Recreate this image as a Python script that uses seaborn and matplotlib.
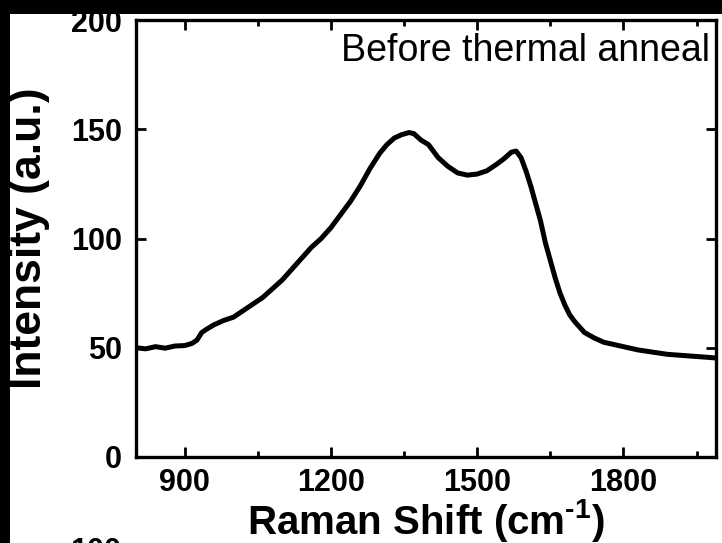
import numpy as np
import pandas as pd
import matplotlib
matplotlib.use("Agg")
import matplotlib.pyplot as plt
from matplotlib.patches import Rectangle
import seaborn as sns

# ─── DATA ─────────────────────────────────────────────────
raman_shift = [800, 820, 840, 860, 880, 900, 915, 925, 935, 945, 960, 980,
               1000, 1020, 1040, 1060, 1080, 1100, 1120, 1140, 1160, 1180,
               1200, 1220, 1240, 1260, 1280, 1300, 1315, 1330, 1345, 1360,
               1370, 1385, 1400, 1420, 1440, 1460, 1480, 1500, 1520, 1540,
               1555, 1570, 1580, 1590, 1600, 1610, 1620, 1630, 1640, 1650,
               1660, 1670, 1680, 1690, 1700, 1720, 1740, 1760, 1780, 1800,
               1830, 1860, 1890, 1920, 1950, 1980, 1990]
intensity = [50.0, 49.5, 50.5, 49.8, 50.8, 51.0, 52.0, 53.5, 57.0, 58.5, 60.5, 62.5,
             64.0, 67.0, 70.0, 73.0, 77.0, 81.0, 86.0, 91.0, 96.0, 100.0,
             105.0, 111.0, 117.0, 124.0, 132.0, 139.0, 143.0, 146.0, 147.5, 148.5,
             148.0, 145.0, 143.0, 137.0, 133.0, 130.0, 129.0, 129.5, 131.0, 134.0,
             136.5, 139.5, 140.0, 137.0, 131.0, 124.0, 116.0, 108.0, 98.0, 90.0,
             82.0, 75.0, 69.5, 65.0, 62.0, 57.0, 54.5, 52.5, 51.5, 50.5,
             49.0, 48.0, 47.0, 46.5, 46.0, 45.5, 45.3]
x_major = [900, 1200, 1500, 1800]
x_minor = [1050, 1350, 1650, 1950]
y_major = [0, 50, 100, 150, 200]
note = "Before thermal anneal"

df = pd.DataFrame({"shift": raman_shift, "intensity": intensity})

# ─── STYLE ────────────────────────────────────────────────
sns.set_style("ticks")
plt.rcParams["font.family"] = ["Liberation Sans", "DejaVu Sans"]
plt.rcParams["mathtext.fontset"] = "custom"
plt.rcParams["mathtext.rm"] = "Liberation Sans:bold"
plt.rcParams["mathtext.bf"] = "Liberation Sans:bold"
plt.rcParams["mathtext.default"] = "bf"
for key in ["text.color", "axes.labelcolor", "xtick.color", "ytick.color",
            "axes.edgecolor"]:
    plt.rcParams[key] = "black"

fig = plt.figure(figsize=(7.22, 5.43), dpi=100, facecolor="black")
# white sheet, black border on the left and top
fig.patches.append(Rectangle((10 / 722, 0), 1, 1 - 14 / 543,
                             transform=fig.transFigure, facecolor="white",
                             edgecolor="none", zorder=-5))
ax = fig.add_axes([136 / 722, 86 / 543, 580 / 722, 437 / 543])
ax.set_facecolor("white")

sns.lineplot(data=df, x="shift", y="intensity", color="black", lw=3.6, ax=ax)

ax.set_xlim(800, 1990)
ax.set_ylim(0, 200)
ax.set_xticks(x_major)
ax.set_xticks(x_minor, minor=True)
ax.set_yticks(y_major)
ax.tick_params(which="both", direction="in", top=True, right=True, width=2)
ax.tick_params(which="major", length=7, labelsize=22)
ax.tick_params(which="minor", length=4)
ax.tick_params(axis="x", pad=8)
ax.tick_params(axis="y", pad=10)
for lab in ax.get_xticklabels() + ax.get_yticklabels():
    lab.set_fontweight("bold")
for sp in ax.spines.values():
    sp.set_linewidth(2.4)

ax.set_xlabel(r"Raman Shift (cm$^{\text{-}1}$)", fontsize=29, fontweight="bold",
              labelpad=-1)
ax.set_ylabel("Intensity (a.u.)", fontsize=32, fontweight="bold")
ax.yaxis.set_label_coords(-0.148, 0.5)

ax.text(0.99, 0.93, note, transform=ax.transAxes, ha="right", va="center",
        fontsize=27)

# top of the next panel's tick label, cut by the frame
fig.text(96 / 722, 6 / 543, "100", ha="center", va="top", fontsize=22,
         fontweight="bold")

fig.savefig("out.png", dpi=100, facecolor=fig.get_facecolor())
